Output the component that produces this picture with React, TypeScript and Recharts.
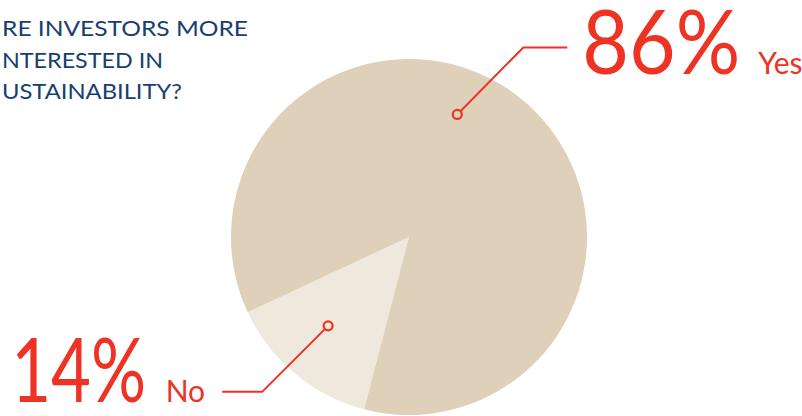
import React from 'react';
import { PieChart, Pie, Cell } from 'recharts';

// survey answers
const answers = ['No', 'Yes'];
const shares = [14, 86];
const sliceColors = ['#EFE8DC', '#DED0B9'];

// title is cut off at the left edge in the source
const titleLines = ['RE INVESTORS MORE', 'NTERESTED IN', 'USTAINABILITY?'];

const RED = '#EE3325';
const NAVY = '#16406F';
const FONT = 'Lato, "Open Sans", sans-serif';
const RADIAN = Math.PI / 180;

const data = answers.map((name, i) => ({ name, value: shares[i] }));

/**
 * Callout with a hollow marker, an elbow line and the big percentage
 */
const renderCallout = (props: any) => {
  const { cx, cy, midAngle, outerRadius, index, name, value } = props;
  const isYes = name === 'Yes';
  const angle = isYes ? midAngle + 18.3 : midAngle - 2.5;
  const r = outerRadius * (isYes ? 0.74 : 0.675);
  const mx = cx + r * Math.cos(-angle * RADIAN);
  const my = cy + r * Math.sin(-angle * RADIAN);

  if (isYes) {
    const ex = mx + 66;
    const ey = my - 67;
    return (
      <g key={`callout-${index}`}>
        <polyline
          points={`${mx},${my} ${ex},${ey} ${ex + 44},${ey}`}
          fill="none"
          stroke={RED}
          strokeWidth={2}
        />
        <circle cx={mx} cy={my} r={4.5} fill={sliceColors[index]} stroke={RED} strokeWidth={2.2} />
        <text
          x={ex + 59}
          y={ey + 27}
          fill={RED}
          fontFamily={FONT}
          fontSize={90}
          textLength={158}
          lengthAdjust="spacingAndGlyphs"
        >
          {value}%
        </text>
        <text x={ex + 235} y={ey + 27} fill={RED} fontFamily={FONT} fontSize={30}>
          {name}
        </text>
      </g>
    );
  }

  const ex = mx - 66;
  const ey = my + 66;
  return (
    <g key={`callout-${index}`}>
      <polyline
        points={`${mx},${my} ${ex},${ey} ${ex - 40},${ey}`}
        fill="none"
        stroke={RED}
        strokeWidth={2}
      />
      <circle cx={mx} cy={my} r={4.5} fill={sliceColors[index]} stroke={RED} strokeWidth={2.2} />
      <text
        x={ex - 57}
        y={ey + 10}
        fill={RED}
        fontFamily={FONT}
        fontSize={30}
        textAnchor="end"
      >
        {name}
      </text>
      <text
        x={ex - 116}
        y={ey + 10}
        fill={RED}
        fontFamily={FONT}
        fontSize={90}
        textAnchor="end"
        textLength={135}
        lengthAdjust="spacingAndGlyphs"
      >
        {value}%
      </text>
    </g>
  );
};

export default function App() {
  const titleWidths = [246, 161, 180];
  return (
    <div style={{ width: 802, height: 416, background: '#fff', overflow: 'hidden' }}>
      <style>{'body{margin:0}'}</style>
      <PieChart width={802} height={416} margin={{ top: 0, right: 0, bottom: 0, left: 0 }}>
        <text fontFamily={FONT} fontSize={21.5} fill={NAVY}>
          {titleLines.map((line, i) => (
            <tspan
              key={line}
              x={2}
              y={36 + i * 31.5}
              textLength={titleWidths[i]}
              lengthAdjust="spacingAndGlyphs"
            >
              {line}
            </tspan>
          ))}
        </text>
        <Pie
          data={data}
          dataKey="value"
          nameKey="name"
          cx={409}
          cy={237}
          outerRadius={178}
          startAngle={205}
          endAngle={565}
          stroke="none"
          label={renderCallout}
          labelLine={false}
          isAnimationActive={false}
        >
          {data.map((entry, i) => (
            <Cell key={entry.name} fill={sliceColors[i]} />
          ))}
        </Pie>
      </PieChart>
    </div>
  );
}
